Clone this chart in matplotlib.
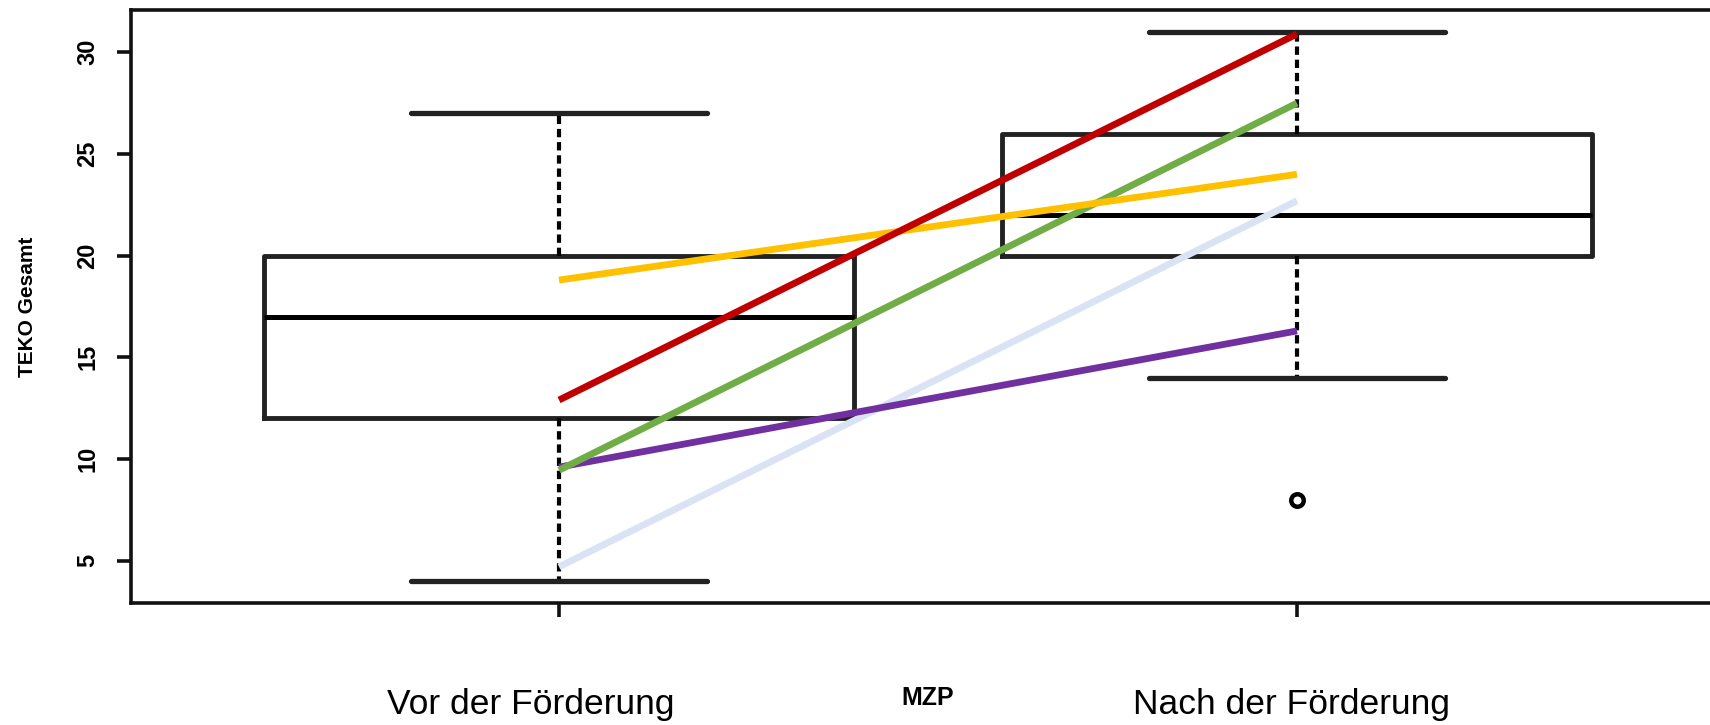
import matplotlib
matplotlib.use("Agg")
import matplotlib.pyplot as plt

# TEKO total score before / after the intervention
groups = ["Vor der Förderung", "Nach der Förderung"]
whislo = [4, 14]
q1 = [12, 20]
med = [17, 22]
q3 = [20, 26]
whishi = [27, 31]
fliers = [[], [8]]

# individual children, pre -> post
pairs = {
    "#DAE3F3": [4.7, 22.7],
    "#7030A0": [9.6, 16.3],
    "#70AD47": [9.45, 27.5],
    "#FFC000": [18.8, 24.0],
    "#C00000": [12.9, 30.9],
}

yticks = [5, 10, 15, 20, 25, 30]

plt.rcParams['lines.scale_dashes'] = False
LABEL_FONT = ['Liberation Sans', 'DejaVu Sans']

fig = plt.figure(figsize=(17.1, 7.25), dpi=100)
ax = fig.add_axes([131 / 1710, 122 / 725, 1594 / 1710, 593 / 725])

stats = []
for i in range(len(groups)):
    stats.append(dict(whislo=whislo[i], q1=q1[i], med=med[i], q3=q3[i],
                      whishi=whishi[i], fliers=fliers[i]))

edge = '#222222'
ax.bxp(stats, positions=[1, 2], widths=0.8, capwidths=0.4,
       showfliers=True,
       boxprops=dict(color=edge, linewidth=3.5, solid_joinstyle='round'),
       medianprops=dict(color='black', linewidth=3.6),
       whiskerprops=dict(color='black', linewidth=3.0,
                         linestyle=(0, (6, 3.5))),
       capprops=dict(color=edge, linewidth=3.8, solid_capstyle='round'),
       flierprops=dict(marker='o', markersize=9, markerfacecolor='none',
                       markeredgecolor='black', markeredgewidth=3.2))

for color, vals in pairs.items():
    ax.plot([1, 2], vals, color=color, linewidth=4.9,
            solid_capstyle='butt', zorder=5)

ax.set_xlim(0.42, 2.58)
ax.set_ylim(2.92, 32.08)

for side in ax.spines.values():
    side.set_linewidth(2.6)
    side.set_color('#111111')

ax.set_yticks(yticks)
ax.set_yticklabels([str(v) for v in yticks], rotation=90, va='center',
                   family=LABEL_FONT, fontweight='bold', fontsize=17)
ax.tick_params(axis='both', length=10, width=2.6, color='#111111', pad=13)
ax.set_xticks([1, 2])
ax.set_xticklabels(['', ''])

xt = ax.get_xaxis_transform()
ax.text(0.962, -0.187, groups[0], transform=xt, ha='center', va='baseline',
        family=LABEL_FONT, fontsize=25.5)
ax.text(1.993, -0.187, groups[1], transform=xt, ha='center', va='baseline',
        family=LABEL_FONT, fontsize=25.5)

ax.text(0.5, -0.160, "MZP", transform=ax.transAxes, ha='center',
        va='center', family=LABEL_FONT, fontweight='bold', fontsize=18)
ax.text(-0.0649, 0.5, "TEKO Gesamt", transform=ax.transAxes, ha='center',
        va='center', rotation=90, family=LABEL_FONT, fontweight='bold',
        fontsize=15)

fig.savefig("out.png", dpi=100)
